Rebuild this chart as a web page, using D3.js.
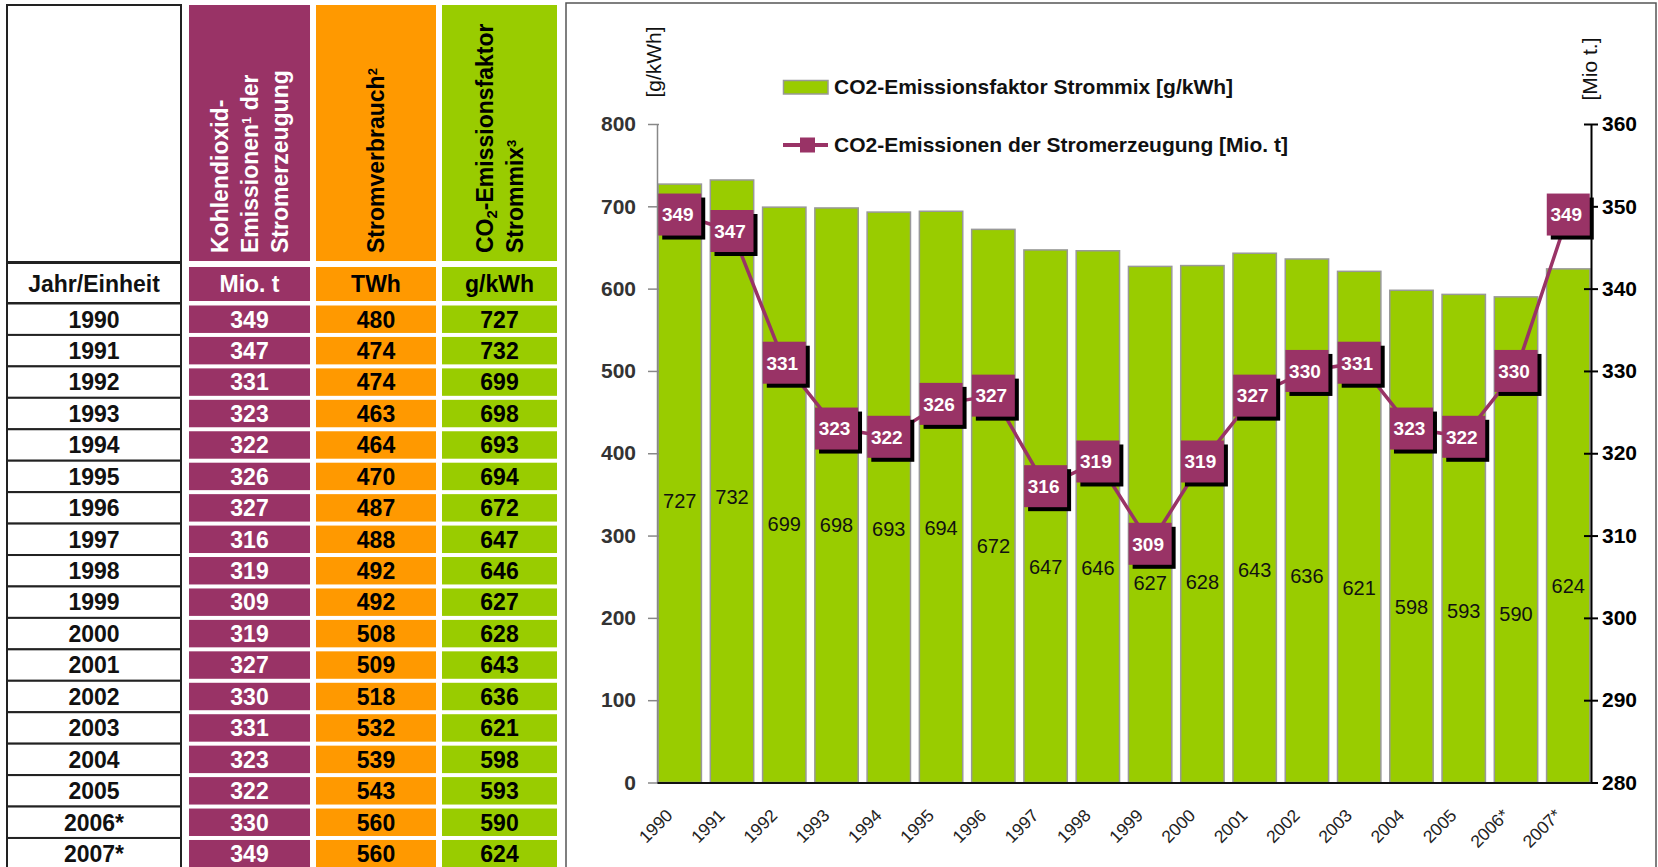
<!doctype html>
<html>
	<head>
		<meta charset="UTF-8" />
		<title>CO2-Emissionen der Stromerzeugung</title>
		<script src="https://d3js.org/d3.v7.min.js"></script>
		<style>
			html, body { margin: 0; padding: 0; background: #fff; }
			svg { display: block; font-family: "Liberation Sans", Arial, sans-serif; }
		</style>
	</head>
	<body>
		<svg id="chart" width="1658" height="867"></svg>

		<script>
			// values as printed in the table / chart
			const years = ["1990", "1991", "1992", "1993", "1994", "1995", "1996", "1997", "1998",
			               "1999", "2000", "2001", "2002", "2003", "2004", "2005", "2006*", "2007*"];
			const co2Emissions = [349, 347, 331, 323, 322, 326, 327, 316, 319, 309, 319, 327, 330, 331, 323, 322, 330, 349];
			const powerConsumption = [480, 474, 474, 463, 464, 470, 487, 488, 492, 492, 508, 509, 518, 532, 539, 543, 560, 560];
			const emissionFactor = [727, 732, 699, 698, 693, 694, 672, 647, 646, 627, 628, 643, 636, 621, 598, 593, 590, 624];
			const leftTicks = [0, 100, 200, 300, 400, 500, 600, 700, 800];
			const rightTicks = [280, 290, 300, 310, 320, 330, 340, 350, 360];
			const units = ["Mio. t", "TWh", "g/kWh"];

			(function(){
				"use strict";

				const purple = "#993366";
				const orange = "#FF9900";
				const green = "#99CC00";
				const tfs = 23; // table font size

				const svg = d3.select("#chart");

				/* ---------- table on the left ---------- */
				const table = svg.append("g").attr("class", "table");

				const cols = [
					{x0: 189, x1: 310, fill: purple, text: "#fff", values: co2Emissions},
					{x0: 316, x1: 436, fill: orange, text: "#000", values: powerConsumption},
					{x0: 442, x1: 557, fill: green, text: "#000", values: emissionFactor}
				];

				const rowY = d3.scaleBand()
				               .domain(years)
				               .range([303.5, 303.5 + years.length * 31.44]);
				const rh = rowY.bandwidth();

				// white year column
				table.append("rect").attr("x", 7).attr("y", 5).attr("width", 174).attr("height", 257)
				     .attr("fill", "#fff").attr("stroke", "#222").attr("stroke-width", 2);
				table.append("rect").attr("x", 7).attr("y", 263).attr("width", 174).attr("height", 40)
				     .attr("fill", "#fff").attr("stroke", "#222").attr("stroke-width", 2);
				table.append("text").attr("x", 94).attr("y", 284).attr("dy", "0.35em")
				     .attr("text-anchor", "middle").attr("font-size", tfs).attr("font-weight", "bold")
				     .attr("fill", "#111").text("Jahr/Einheit");

				table.selectAll("rect.yearCell")
				     .data(years)
				     .enter().append("rect")
				     .attr("class", "yearCell")
				     .attr("x", 7).attr("y", d => rowY(d))
				     .attr("width", 174).attr("height", rh)
				     .attr("fill", "#fff").attr("stroke", "#222").attr("stroke-width", 2);

				table.selectAll("text.year")
				     .data(years)
				     .enter().append("text")
				     .attr("class", "year")
				     .attr("x", 94).attr("y", d => rowY(d) + rh / 2).attr("dy", "0.36em")
				     .attr("text-anchor", "middle").attr("font-size", tfs).attr("font-weight", "bold")
				     .attr("fill", "#111").text(d => d);

				// coloured columns: header, unit, values
				cols.forEach(function(c, ci){
					const cx = (c.x0 + c.x1) / 2;
					const w = c.x1 - c.x0;
					table.append("rect").attr("x", c.x0).attr("y", 5).attr("width", w).attr("height", 256).attr("fill", c.fill);
					table.append("rect").attr("x", c.x0).attr("y", 267).attr("width", w).attr("height", 34).attr("fill", c.fill);
					table.append("text").attr("x", cx).attr("y", 284).attr("dy", "0.35em")
					     .attr("text-anchor", "middle").attr("font-size", tfs).attr("font-weight", "bold")
					     .attr("fill", c.text).text(units[ci]);

					table.selectAll("rect.cell" + ci)
					     .data(c.values)
					     .enter().append("rect")
					     .attr("x", c.x0).attr("y", (d, i) => rowY(years[i]) + 2)
					     .attr("width", w).attr("height", rh - 4)
					     .attr("fill", c.fill);

					table.selectAll("text.cell" + ci)
					     .data(c.values)
					     .enter().append("text")
					     .attr("x", cx).attr("y", (d, i) => rowY(years[i]) + rh / 2).attr("dy", "0.36em")
					     .attr("text-anchor", "middle").attr("font-size", tfs).attr("font-weight", "bold")
					     .attr("fill", c.text).text(d => d);
				});

				// rotated header texts
				let header = function(cx, lines, color){
					const n = lines.length;
					lines.forEach(function(parts, i){
						const t = table.append("text")
						               .attr("transform", "translate(" + (cx + (i - (n - 1) / 2) * 30) + ",253) rotate(-90)")
						               .attr("dy", "0.35em")
						               .attr("font-size", tfs).attr("font-weight", "bold")
						               .attr("fill", color);
						parts.forEach(function(p){
							const s = t.append("tspan").text(p.t);
							if(p.sub) s.attr("font-size", 15).attr("dy", 4);
							if(p.after) s.attr("dy", -4);
							if(p.sup) s.attr("font-size", 13).attr("baseline-shift", "super");
						});
					});
				};
				header(249.5, [[{t: "Kohlendioxid-"}], [{t: "Emissionen"}, {t: "1", sup: true}, {t: " der"}], [{t: "Stromerzeugung"}]], "#fff");
				header(376, [[{t: "Stromverbrauch"}, {t: "2", sup: true}]], "#000");
				header(499.5, [[{t: "CO"}, {t: "2", sub: true}, {t: "-Emissionsfaktor", after: true}], [{t: "Strommix"}, {t: "3", sup: true}]], "#000");

				/* ---------- chart on the right ---------- */
				const chart = svg.append("g").attr("class", "combo");

				chart.append("rect").attr("x", 566).attr("y", 3).attr("width", 1090).attr("height", 880)
				     .attr("fill", "none").attr("stroke", "#555").attr("stroke-width", 1.5);

				const x = d3.scaleBand()
				            .domain(years)
				            .range([657, 1591])
				            .paddingInner(0.17)
				            .paddingOuter(0.02);
				const yLeft = d3.scaleLinear().domain([0, 800]).range([782.5, 124]);
				const yRight = d3.scaleLinear().domain([280, 360]).range([782.5, 124]);
				const bw = x.bandwidth();

				// bars
				chart.selectAll("rect.bar")
				     .data(emissionFactor)
				     .enter().append("rect")
				     .attr("class", "bar")
				     .attr("x", (d, i) => x(years[i]))
				     .attr("y", d => yLeft(d))
				     .attr("width", bw)
				     .attr("height", d => yLeft(0) - yLeft(d))
				     .attr("fill", green)
				     .attr("stroke", "#999")
				     .attr("stroke-width", 1.5);

				chart.selectAll("text.barLabel")
				     .data(emissionFactor)
				     .enter().append("text")
				     .attr("class", "barLabel")
				     .attr("x", (d, i) => x(years[i]) + bw / 2)
				     .attr("y", d => yLeft(d - 385))
				     .attr("dy", "0.35em")
				     .attr("text-anchor", "middle")
				     .attr("font-size", 20)
				     .attr("fill", "#111")
				     .text(d => d);

				// left axis
				const axL = chart.append("g")
				                 .attr("transform", "translate(657,0)")
				                 .call(d3.axisLeft(yLeft).tickValues(leftTicks).tickSize(8).tickSizeOuter(0).tickPadding(13));
				axL.select(".domain").attr("stroke", "#888").attr("stroke-width", 1.5);
				axL.selectAll(".tick line").attr("stroke", "#888").attr("stroke-width", 1.5).attr("x2", -9).attr("x1", 2);
				axL.selectAll(".tick text").attr("font-size", 21).attr("font-weight", "bold").attr("fill", "#333")
				   .attr("font-family", "Liberation Sans, Arial, sans-serif");

				// right axis
				const axR = chart.append("g")
				                 .attr("transform", "translate(1591,0)")
				                 .call(d3.axisRight(yRight).tickValues(rightTicks).tickSize(7).tickSizeOuter(0).tickPadding(4));
				axR.select(".domain").attr("stroke", "#000").attr("stroke-width", 2);
				axR.selectAll(".tick line").attr("stroke", "#000").attr("stroke-width", 2).attr("x1", -7);
				axR.selectAll(".tick text").attr("font-size", 21).attr("font-weight", "bold").attr("fill", "#000")
				   .attr("font-family", "Liberation Sans, Arial, sans-serif");

				// bottom axis
				const axB = chart.append("g")
				                 .attr("transform", "translate(0,782.5)")
				                 .call(d3.axisBottom(x).tickSize(0).tickSizeOuter(0));
				axB.select(".domain").attr("stroke", "#111").attr("stroke-width", 2);
				axB.selectAll(".tick text")
				   .attr("y", 0).attr("dy", 0)
				   .attr("transform", "translate(-6,34) rotate(-45)")
				   .attr("text-anchor", "end")
				   .attr("font-size", 17.5)
				   .attr("fill", "#222")
				   .attr("font-family", "Liberation Sans, Arial, sans-serif");

				// axis titles
				chart.append("text").attr("transform", "translate(654,62) rotate(-90)")
				     .attr("dy", "0.35em").attr("text-anchor", "middle").attr("font-size", 21).attr("fill", "#111")
				     .text("[g/kWh]");
				chart.append("text").attr("transform", "translate(1590,69) rotate(-90)")
				     .attr("dy", "0.35em").attr("text-anchor", "middle").attr("font-size", 21).attr("fill", "#111")
				     .text("[Mio t.]");

				// emissions line with boxed labels
				const pts = co2Emissions.map((v, i) => ({year: years[i], v: v}));
				const line = d3.line()
				               .x(d => x(d.year) + bw / 2)
				               .y(d => yRight(d.v));

				chart.append("path")
				     .datum(pts)
				     .attr("d", line)
				     .attr("fill", "none")
				     .attr("stroke", purple)
				     .attr("stroke-width", 3.5);

				const mk = chart.selectAll("g.marker")
				                .data(pts)
				                .enter().append("g")
				                .attr("class", "marker")
				                .attr("transform", d => "translate(" + (x(d.year) + bw / 2) + "," + yRight(d.v) + ")");
				mk.append("rect").attr("x", -21.5 + 4).attr("y", -21 + 4).attr("width", 43).attr("height", 42).attr("fill", "#000");
				mk.append("rect").attr("x", -21.5).attr("y", -21).attr("width", 43).attr("height", 42).attr("fill", purple);
				mk.append("text").attr("x", -2).attr("dy", "0.36em")
				  .attr("text-anchor", "middle").attr("font-size", 19).attr("font-weight", "bold")
				  .attr("fill", "#fff").text(d => d.v);

				// legend
				const lg = chart.append("g").attr("class", "legend");
				lg.append("rect").attr("x", 783.5).attr("y", 80.5).attr("width", 44.5).attr("height", 13.5)
				  .attr("fill", green).attr("stroke", "#999").attr("stroke-width", 1.5);
				lg.append("text").attr("x", 834).attr("y", 87).attr("dy", "0.35em")
				  .attr("font-size", 21).attr("font-weight", "bold").attr("fill", "#111")
				  .text("CO2-Emissionsfaktor Strommix [g/kWh]");
				lg.append("line").attr("x1", 783).attr("x2", 828).attr("y1", 145).attr("y2", 145)
				  .attr("stroke", purple).attr("stroke-width", 4);
				lg.append("rect").attr("x", 800).attr("y", 137.5).attr("width", 15).attr("height", 15).attr("fill", purple);
				lg.append("text").attr("x", 834).attr("y", 145).attr("dy", "0.35em")
				  .attr("font-size", 21).attr("font-weight", "bold").attr("fill", "#111")
				  .text("CO2-Emissionen der Stromerzeugung [Mio. t]");
			})();
		</script>
	</body>
</html>
